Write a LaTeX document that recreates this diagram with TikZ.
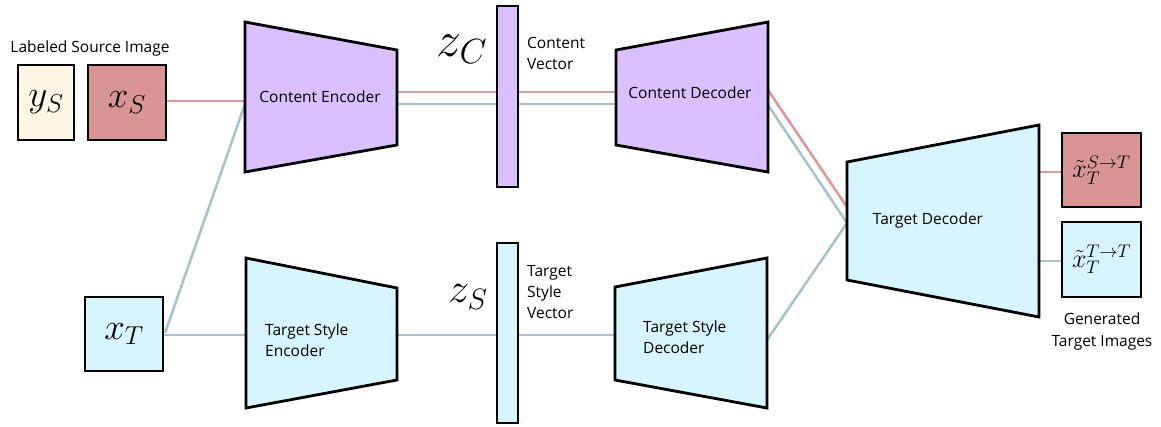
\RequirePackage{fix-cm}
\documentclass[tikz,border=0pt]{standalone}
\usepackage{fontspec}
\setmainfont{Open Sans}
\begin{document}
\begin{tikzpicture}[x=1pt,y=-1pt,
  blk/.style={draw=black,line width=2.8pt,line join=miter},
  lbl/.style={font=\fontsize{15.5}{20.5}\selectfont,inner sep=0pt},
  redln/.style={draw=redline,line width=2.6pt},
  bluln/.style={draw=blueline,line width=2.6pt},
  imgbox/.style={draw=black,line width=2.8pt,minimum width=#1,inner sep=0pt}]
\definecolor{purp}{RGB}{218,192,255}
\definecolor{cyanf}{RGB}{215,245,253}
\definecolor{redbox}{RGB}{217,149,150}
\definecolor{cream}{RGB}{255,246,230}
\definecolor{redline}{RGB}{226,152,152}
\definecolor{blueline}{RGB}{168,196,200}
\useasboundingbox (0,0) rectangle (1161,426);

% corner coordinates of the trapezoid blocks
\coordinate (ce1) at (245,22);  \coordinate (ce2) at (397,50);
\coordinate (ce3) at (397,145); \coordinate (ce4) at (245,172);
\coordinate (cd1) at (616,50);  \coordinate (cd2) at (768,22);
\coordinate (cd3) at (768,172); \coordinate (cd4) at (616,145);
\coordinate (se1) at (246,258); \coordinate (se2) at (397,288);
\coordinate (se3) at (397,380); \coordinate (se4) at (246,408);
\coordinate (sd1) at (615,287); \coordinate (sd2) at (767,258);
\coordinate (sd3) at (767,408); \coordinate (sd4) at (615,380);
\coordinate (td1) at (847,162); \coordinate (td2) at (1039,125);
\coordinate (td3) at (1039,317);\coordinate (td4) at (847,280);

% connector end points on the block edges
\coordinate (ceinR) at (245,101);  \coordinate (ceinB) at (245,104);
\coordinate (ceoutR) at (397,92);  \coordinate (ceoutB) at (397,104);
\coordinate (cdinR) at (616,92);   \coordinate (cdinB) at (616,104);
\coordinate (cdoutR) at (768,90);  \coordinate (cdoutB) at (768,105);
\coordinate (sein) at (246,335);   \coordinate (seout) at (397,335);
\coordinate (sdin) at (615,335);   \coordinate (sdout) at (767,340);
\coordinate (tdinR) at (847,207);  \coordinate (tdinB) at (847,223);
\coordinate (tdoutR) at (1039,172);\coordinate (tdoutB) at (1039,261);

% image boxes
\node[imgbox=56pt,minimum height=75pt,fill=cream] (ys) at (46,102.5) {};
\node[imgbox=78pt,minimum height=75pt,fill=redbox] (xs) at (127,102.5) {};
\node[imgbox=78pt,minimum height=74pt,fill=cyanf] (xt) at (124,334) {};
\node[imgbox=79pt,minimum height=74pt,fill=redbox] (o1) at (1101.5,170) {};
\node[imgbox=79pt,minimum height=75pt,fill=cyanf] (o2) at (1101.5,259.5) {};
\coordinate (xtc) at (165,333);

% connectors (behind the blocks)
\draw[redln] (xs.east |- ceinR) -- (ceinR);
\draw[bluln] (xt.east |- sein) -- (sein);
\draw[bluln] (xtc) -- (ceinB);
\draw[redln] (ceoutR) -- (cdinR);
\draw[bluln] (ceoutB) -- (cdinB);
\draw[bluln] (seout) -- (sdin);
\draw[redln] (cdoutR) -- (tdinR);
\draw[bluln] (cdoutB) -- (tdinB);
\draw[bluln] (sdout) -- (tdinB);
\draw[redln] (tdoutR) -- (o1.west |- tdoutR);
\draw[bluln] (tdoutB) -- (o2.west |- tdoutB);

% trapezoid blocks
\draw[blk,fill=purp] (ce1) -- (ce2) -- (ce3) -- (ce4) -- cycle;
\draw[blk,fill=purp] (cd1) -- (cd2) -- (cd3) -- (cd4) -- cycle;
\draw[blk,fill=cyanf] (se1) -- (se2) -- (se3) -- (se4) -- cycle;
\draw[blk,fill=cyanf] (sd1) -- (sd2) -- (sd3) -- (sd4) -- cycle;
\draw[blk,fill=cyanf] (td1) -- (td2) -- (td3) -- (td4) -- cycle;

% latent vectors
\node[blk,fill=purp,minimum width=21pt,minimum height=181pt,inner sep=0pt] (zc) at (507.5,96.5) {};
\node[blk,fill=cyanf,minimum width=21pt,minimum height=180pt,inner sep=0pt] (zs) at (507.5,333) {};

% math labels
\node[font=\fontsize{37}{40}\selectfont] (ysl) at (ys.center) {$y_S$};
\node[font=\fontsize{37}{40}\selectfont] (xsl) at (xs.center) {$x_S$};
\node[font=\fontsize{37}{40}\selectfont] (xtl) at (xt.center) {$x_T$};
\node[font=\fontsize{26}{28}\selectfont] (o1l) at (o1.center) {$\tilde{x}_T^{S\to T}$};
\node[font=\fontsize{26}{28}\selectfont] (o2l) at (o2.center) {$\tilde{x}_T^{T\to T}$};
\node[font=\fontsize{50}{52}\selectfont] (zcl) at (462,49) {$z_C$};
\node[font=\fontsize{42}{44}\selectfont] (zsl) at (468,297) {$z_S$};

% text labels
\node[lbl] (src) at (90,48) {Labeled Source Image};
\node[lbl] (cel) at (320,97) {Content Encoder};
\node[lbl] (cdl) at (690,93) {Content Decoder};
\node[lbl] (tdl) at (928,220) {Target Decoder};
\node[lbl,anchor=west,align=left] (sel) at (265,340) {Target Style\\Encoder};
\node[lbl,anchor=west,align=left,font=\fontsize{15.5}{21}\selectfont] (sdl) at (643,337.5) {Target Style\\Decoder};
\node[lbl,anchor=west,align=left,font=\fontsize{15.5}{21}\selectfont] (cvl) at (527,53.5) {Content\\Vector};
\node[lbl,anchor=west,align=left,font=\fontsize{15.5}{21}\selectfont] (svl) at (527,292) {Target\\Style\\Vector};
\node[lbl,align=center,font=\fontsize{15.5}{22}\selectfont] (gen) at (1102,331) {Generated\\Target Images};
\end{tikzpicture}
\end{document}
